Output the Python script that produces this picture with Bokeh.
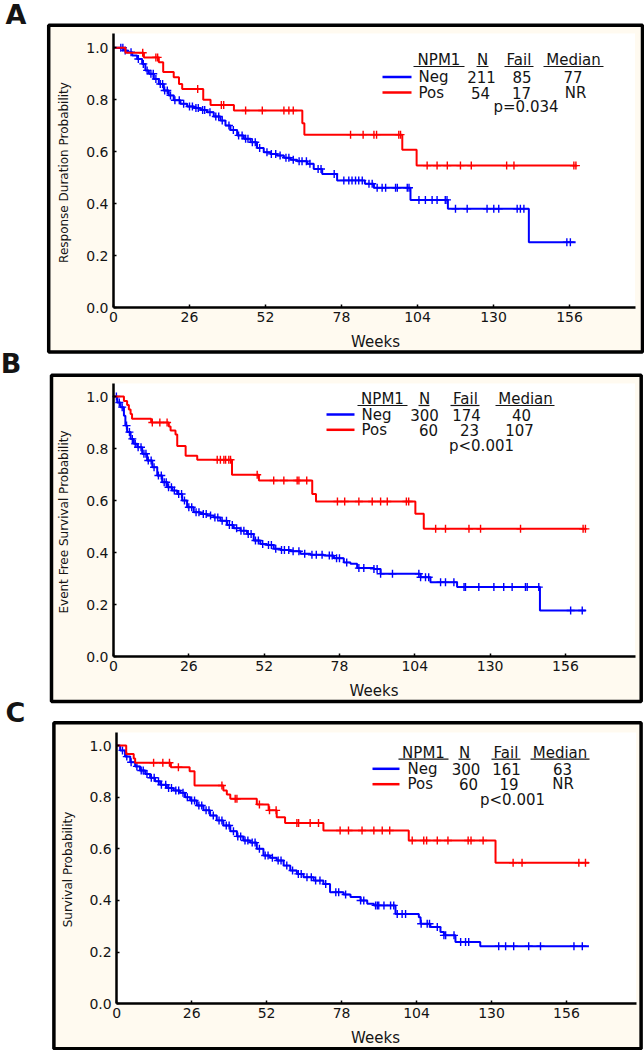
import math
import numpy as np
from bokeh.plotting import figure
from bokeh.models import (Range1d, FixedTicker, PrintfTickFormatter, BoxAnnotation, Label,
                          LinearAxis)
from bokeh.embed import file_html
from bokeh.resources import INLINE

# ---------------- data ----------------
WEEK_TICKS = [0, 26, 52, 78, 104, 130, 156]
PROB_TICKS = [0.0, 0.2, 0.4, 0.6, 0.8, 1.0]
LEGEND_HEADER = ["NPM1", "N", "Fail", "Median"]

# Panel A : response duration
A_TITLE = "Response Duration Probability"
A_NEG_T = [3.5, 4.7, 6.4, 8.1, 9.8, 10.9, 12.1, 13.8, 15.5, 17.2, 18.9, 20.6, 22.9, 25.2, 27.5,
           29.8, 32.0, 34.3, 36.6, 38.3, 40.0, 42.3, 44.6, 46.9, 49.1, 51.4, 53.7, 56.0, 58.3,
           60.6, 62.8, 66.3, 68.5, 71.4, 76.5, 86.0, 89.1, 101.6, 114.4, 142.1]
A_NEG_S = [0.99, 0.983, 0.97, 0.957, 0.938, 0.913, 0.90, 0.88, 0.861, 0.836, 0.817, 0.798, 0.785,
           0.774, 0.768, 0.761, 0.752, 0.736, 0.72, 0.701, 0.684, 0.663, 0.65, 0.637, 0.615, 0.598,
           0.592, 0.586, 0.577, 0.569, 0.564, 0.554, 0.534, 0.515, 0.49, 0.477, 0.462, 0.415, 0.381,
           0.252]
A_NEG_END = 158.1
A_NEG_CENS = [2.5, 3.2, 4.0, 6.0, 8.5, 10.2, 11.5, 12.8, 13.6, 14.5, 16.0, 16.8, 17.5, 18.4, 19.5,
              21.0, 22.5, 24.0, 26.0, 27.0, 28.2, 29.0, 30.5, 31.2, 33.0, 35.0, 36.0, 37.2, 39.5,
              41.0, 42.8, 44.0, 45.2, 46.0, 47.5, 48.5, 50.0, 52.5, 54.0, 55.5, 57.0, 59.0, 60.0,
              61.5, 63.5, 64.5, 66.0, 67.2, 70.0, 71.0, 75.5, 78.8, 80.5, 81.6, 82.8, 83.9, 85.1,
              87.4, 88.5, 90.2, 91.9, 93.1, 96.5, 97.1, 100.5, 101.1, 104.5, 106.7, 109.0, 110.7,
              113.5, 114.1, 117.0, 121.0, 127.8, 130.1, 131.8, 138.1, 139.2, 140.4, 155.1, 156.3]
A_POS_T = [4.1, 10.4, 15.5, 17.0, 20.6, 22.4, 23.5, 30.7, 33.2, 41.2, 64.6, 65.3, 98.8, 103.7]
A_POS_S = [0.981, 0.963, 0.944, 0.907, 0.887, 0.861, 0.842, 0.80, 0.780, 0.759, 0.71, 0.666,
           0.608, 0.547]
A_POS_END = 158.5
A_POS_CENS = [10.0, 14.5, 15.1, 28.8, 36.9, 37.7, 45.2, 50.9, 58.3, 60.0, 61.5, 81.1, 85.4, 89.1,
              90.0, 97.6, 98.2, 107.3, 110.7, 114.2, 118.7, 122.4, 134.5, 137.0, 157.5, 158.2]
A_ROWS = [["Neg", "211", "85", "77"], ["Pos", "54", "17", "NR"]]
A_P = "p=0.034"

# Panel B : event free survival
B_TITLE = "Event Free Survival Probability"
B_NEG_T = [1.3, 2.4, 3.6, 4.1, 4.7, 5.9, 7.0, 8.2, 9.9, 11.6, 13.4, 15.1, 16.8, 18.5, 20.3, 22.0,
           23.7, 25.4, 27.7, 30.0, 32.3, 34.6, 36.9, 39.2, 41.5, 43.8, 46.1, 48.4, 50.7, 53.0,
           55.3, 57.6, 61.1, 64.5, 68.0, 72.6, 76.1, 79.5, 81.8, 84.1, 89.9, 92.2, 106.0, 109.4,
           118.6, 147.2]
B_NEG_S = [0.977, 0.959, 0.926, 0.888, 0.863, 0.837, 0.818, 0.805, 0.78, 0.754, 0.728, 0.696,
           0.67, 0.651, 0.638, 0.625, 0.60, 0.574, 0.555, 0.548, 0.542, 0.535, 0.522, 0.506, 0.493,
           0.484, 0.471, 0.446, 0.433, 0.429, 0.414, 0.41, 0.405, 0.395, 0.391, 0.388, 0.378,
           0.362, 0.357, 0.34, 0.337, 0.318, 0.305, 0.286, 0.267, 0.177]
B_NEG_END = 163.0
B_NEG_CENS = [1.0, 2.0, 3.0, 4.5, 5.5, 6.5, 7.5, 8.5, 9.5, 10.5, 11.2, 12.0, 13.0, 14.0, 15.5, 16.5,
              17.5, 18.2, 19.0, 20.0, 21.0, 22.5, 23.5, 24.5, 26.0, 27.0, 28.5, 29.5, 31.0, 32.0,
              33.5, 35.0, 36.0, 37.5, 39.0, 40.0, 41.0, 42.5, 44.0, 45.0, 46.5, 47.5, 49.0, 50.0,
              51.5, 53.5, 54.5, 56.0, 58.0, 59.0, 60.5, 62.0, 64.0, 66.0, 68.5, 70.0, 72.0, 74.5,
              75.5, 77.0, 78.0, 80.5, 84.7, 86.4, 89.9, 91.0, 92.2, 96.3, 105.4, 106.0, 107.7,
              108.8, 112.9, 114.6, 117.5, 121.0, 121.5, 126.1, 131.3, 134.7, 137.6, 142.2, 142.8,
              146.8, 157.8, 161.8]
B_POS_T = [3.6, 4.7, 5.3, 5.9, 6.4, 13.0, 19.1, 19.7, 21.4, 22.0, 24.9, 28.9, 40.9, 50.2, 68.6,
           69.9, 104.2, 107.1]
B_POS_S = [0.983, 0.967, 0.95, 0.933, 0.914, 0.90, 0.885, 0.869, 0.854, 0.81, 0.772, 0.757,
           0.699, 0.677, 0.625, 0.596, 0.549, 0.491]
B_POS_END = 163.0
B_POS_CENS = [13.4, 16.0, 18.5, 35.8, 36.9, 38.1, 38.7, 39.8, 40.4, 49.6, 55.3, 58.8, 63.4, 64.0,
              66.7, 77.3, 79.8, 84.7, 89.3, 92.2, 94.5, 101.1, 101.9, 111.2, 114.6, 122.7, 126.7,
              140.5, 162.1, 162.9]
B_ROWS = [["Neg", "300", "174", "40"], ["Pos", "60", "23", "107"]]
B_P = "p<0.001"

# Panel C : overall survival
C_TITLE = "Survival Probability"
C_NEG_T = [1.2, 2.9, 4.7, 6.4, 8.1, 9.9, 11.6, 13.3, 15.1, 17.4, 19.7, 22.0, 23.7, 25.5, 27.8,
           30.1, 32.4, 34.7, 37.0, 39.4, 41.7, 43.9, 46.3, 48.6, 50.9, 53.2, 55.5, 57.9, 60.2,
           62.5, 64.8, 68.3, 71.7, 74.0, 78.7, 81.1, 84.6, 86.9, 89.2, 96.7, 104.8, 105.4, 108.8,
           112.3, 113.5, 117.5, 126.1]
C_NEG_S = [0.981, 0.957, 0.935, 0.919, 0.903, 0.89, 0.875, 0.862, 0.848, 0.835, 0.826, 0.817,
           0.80, 0.787, 0.768, 0.749, 0.729, 0.71, 0.69, 0.668, 0.648, 0.632, 0.624, 0.60, 0.574,
           0.565, 0.555, 0.535, 0.516, 0.503, 0.49, 0.477, 0.464, 0.432, 0.423, 0.413, 0.40,
           0.387, 0.381, 0.348, 0.335, 0.31, 0.297, 0.278, 0.265, 0.239, 0.223]
C_NEG_END = 163.8
C_NEG_CENS = [2.0, 3.5, 5.0, 7.0, 8.5, 9.2, 10.5, 12.0, 13.0, 14.5, 15.5, 17.0, 18.0, 19.0, 20.5,
              21.5, 23.0, 24.5, 26.0, 27.0, 28.5, 29.5, 31.0, 32.0, 33.5, 35.5, 36.5, 38.0, 39.0,
              40.5, 42.0, 43.0, 44.5, 45.5, 47.0, 48.0, 49.5, 51.5, 52.5, 54.0, 56.0, 57.0, 59.0,
              61.0, 63.0, 64.0, 66.0, 67.5, 69.0, 70.5, 72.5, 76.0, 77.0, 79.4, 84.6, 85.7, 89.8,
              90.4, 90.9, 92.7, 95.0, 96.1, 97.3, 99.0, 100.2, 105.6, 107.7, 108.5, 111.2, 113.5,
              114.1, 117.0, 119.3, 121.0, 122.1, 132.5, 134.9, 137.7, 142.9, 147.0, 158.6, 161.5]
C_POS_T = [3.3, 5.9, 6.4, 18.8, 25.3, 27.0, 37.0, 38.2, 39.4, 48.6, 52.7, 55.5, 58.4, 71.7,
           101.3, 131.4]
C_POS_S = [0.967, 0.95, 0.933, 0.916, 0.90, 0.845, 0.826, 0.81, 0.794, 0.772, 0.749, 0.722, 0.70,
           0.671, 0.632, 0.546]
C_POS_END = 163.8
C_POS_CENS = [12.8, 16.0, 18.3, 21.4, 36.5, 41.1, 41.7, 49.5, 53.0, 55.3, 62.5, 63.1, 67.1, 70.0,
              77.5, 80.4, 85.1, 89.2, 92.1, 94.7, 102.5, 106.5, 107.5, 111.2, 114.9, 121.9, 122.9,
              127.1, 137.5, 140.6, 160.3, 162.6]
C_ROWS = [["Neg", "300", "161", "63"], ["Pos", "60", "19", "NR"]]
C_P = "p<0.001"

# ---------------- layout / style (page pixels) ----------------
W, H = 644, 1050
FONT = "DejaVu Sans"
INK = "#141414"
BLUE = "#0000FF"
RED = "#FF0000"
CREAM = "#FFFAF0"

# each panel: oy = vertical page offset; other y values are relative to it
GEO = {
    "A": dict(oy=0, box=(48.2, 642.0, 24.8, 351.4), map=(113.0, 2.923, 307.3, 260.0),
              white=(634.5, 33.0), letter=(15.5, 14.0), ytitle=(63.5, 172.0), weeks=(375.0, 341.0),
              hdr_y=59.7, ul_y=66.0, row_y=(76.5, 92.0), p_y=106.7,
              hdr_x=(438.5, 482.0, 518.5, 573.0),
              ul=((413, 464), (476, 488), (504, 533), (543, 603)),
              line=(382, 411), name_x=418, cols=((481, 521.5, 572.5), (480, 521, 575)), p_x=525.5),
    "B": dict(oy=353, box=(51.0, 640.7, 21.8, 348.0), map=(113.0, 2.897, 303.0, 260.0),
              white=(634.5, 30.0), letter=(10.5, 10.3), ytitle=(63.5, 168.5), weeks=(373.5, 337.0),
              hdr_y=45.7, ul_y=52.0, row_y=(61.0, 76.3), p_y=92.0,
              hdr_x=(382.0, 424.0, 465.0, 525.0),
              ul=((357, 407), (418, 429), (450, 479), (495, 554)),
              line=(326, 354), name_x=361, cols=((424, 466, 521), (428, 469, 519)), p_x=481.0),
    "C": dict(oy=703, box=(53.4, 640.6, 19.3, 345.3), map=(116.2, 2.883, 300.3, 258.3),
              white=(635.7, 29.0), letter=(14.8, 9.0), ytitle=(67.8, 166.0), weeks=(375.0, 334.0),
              hdr_y=49.7, ul_y=55.7, row_y=(65.3, 80.7), p_y=96.3,
              hdr_x=(423.0, 464.0, 505.5, 559.5),
              ul=((398, 448), (458, 470), (491, 520), (530, 589)),
              line=(372, 399), name_x=407, cols=((465.5, 506, 562), (468, 508.5, 562.5)), p_x=512.0),
}


def km_points(times, surv, end):
    return [0.0] + list(times) + [end], [1.0] + list(surv) + [surv[-1]]


def censor_levels(times, surv, cens):
    idx = np.searchsorted(np.array(times), np.array(cens), side="right") - 1
    s = np.array(surv)
    return [float(s[i]) if i >= 0 else 1.0 for i in idx]


p = figure(width=W, height=H, output_backend="svg", toolbar_location=None, title=None,
           x_range=Range1d(0, W), y_range=Range1d(H, 0),
           x_axis_type=None, y_axis_type=None,
           min_border_left=0, min_border_right=0, min_border_top=0, min_border_bottom=0)
p.background_fill_color = "white"
p.border_fill_color = "white"
p.outline_line_color = None
p.grid.visible = False


def add_panel(key, letter, ytitle, neg, pos, rows, ptext):
    g = GEO[key]
    oy = g["oy"]
    x0, kx, y0, ky = g["map"]

    def dx(px):
        return (px - x0) / kx

    def dy(py):
        return (y0 + oy - py) / ky  # py in page pixels

    p.extra_x_ranges[key] = Range1d(dx(0), dx(W))
    p.extra_y_ranges[key] = Range1d(dy(H), dy(0))
    rn = dict(x_range_name=key, y_range_name=key)

    bl, br, bt, bb = g["box"]
    p.add_layout(BoxAnnotation(left=dx(bl), right=dx(br), bottom=dy(oy + bb), top=dy(oy + bt),
                               fill_color=CREAM, fill_alpha=1.0, line_color="black",
                               line_alpha=1.0, line_width=3.5, level="underlay", **rn))
    wr, wt = g["white"]
    p.add_layout(BoxAnnotation(left=0, right=dx(wr), bottom=0, top=dy(oy + wt),
                               fill_color="white", fill_alpha=1.0, line_color=None,
                               level="underlay", **rn))

    xa = LinearAxis(ticker=FixedTicker(ticks=WEEK_TICKS), bounds=(0, dx(wr)),
                    major_label_standoff=4, **rn)
    ya = LinearAxis(ticker=FixedTicker(ticks=PROB_TICKS), bounds=(0, dy(oy + wt)),
                    formatter=PrintfTickFormatter(format="%.1f"), major_label_standoff=5, **rn)
    for ax in (xa, ya):
        ax.fixed_location = 0
        ax.axis_line_width = 2.5
        ax.axis_line_color = "black"
        ax.major_tick_in = 3
        ax.major_tick_out = 0
        ax.major_tick_line_width = 1.5
        ax.major_tick_line_color = "black"
        ax.minor_tick_line_color = None
        ax.major_label_text_font = FONT
        ax.major_label_text_font_size = "14px"
        ax.major_label_text_color = INK
    p.add_layout(xa, "below")
    p.add_layout(ya, "left")

    for (t, s, end, cens), color in ((neg, BLUE), (pos, RED)):
        xs, ys = km_points(t, s, end)
        p.step(xs, ys, mode="after", line_color=color, line_width=2, **rn)
        p.scatter(cens, censor_levels(t, s, cens), marker="cross", size=8,
                  line_color=color, line_width=1.4, **rn)

    def text(px, py, s, size="15px", align="center", bold=False, angle=0.0):
        p.add_layout(Label(x=dx(px), y=dy(oy + py), text=s, text_font=FONT, text_font_size=size,
                           text_align=align, text_baseline="middle", text_color=INK,
                           text_font_style="bold" if bold else "normal", angle=angle, **rn))

    # panel letter, axis titles
    text(g["letter"][0], g["letter"][1], letter, size="27px", bold=True)
    text(g["ytitle"][0], g["ytitle"][1], ytitle, size="12px", angle=math.pi / 2)
    text(g["weeks"][0], g["weeks"][1], "Weeks", size="15px")

    # legend table
    ux0, uy0, ux1 = [], [], []
    for word, cx, (u0, u1) in zip(LEGEND_HEADER, g["hdr_x"], g["ul"]):
        text(cx, g["hdr_y"], word)
        ux0.append(dx(u0))
        ux1.append(dx(u1))
        uy0.append(dy(oy + g["ul_y"]))
    p.segment(x0=ux0, y0=uy0, x1=ux1, y1=uy0, line_color=INK, line_width=1.2, **rn)
    for row, ry, color, cols in zip(rows, g["row_y"], (BLUE, RED), g["cols"]):
        p.segment(x0=[dx(g["line"][0])], y0=[dy(oy + ry)], x1=[dx(g["line"][1])],
                  y1=[dy(oy + ry)], line_color=color, line_width=2.5, **rn)
        text(g["name_x"], ry, row[0], align="left")
        for val, cx in zip(row[1:], cols):
            text(cx, ry, val)
    text(g["p_x"], g["p_y"], ptext)


add_panel("A", "A", A_TITLE, (A_NEG_T, A_NEG_S, A_NEG_END, A_NEG_CENS),
          (A_POS_T, A_POS_S, A_POS_END, A_POS_CENS), A_ROWS, A_P)
add_panel("B", "B", B_TITLE, (B_NEG_T, B_NEG_S, B_NEG_END, B_NEG_CENS),
          (B_POS_T, B_POS_S, B_POS_END, B_POS_CENS), B_ROWS, B_P)
add_panel("C", "C", C_TITLE, (C_NEG_T, C_NEG_S, C_NEG_END, C_NEG_CENS),
          (C_POS_T, C_POS_S, C_POS_END, C_POS_CENS), C_ROWS, C_P)

open("out.html", "w").write(file_html(p, INLINE))
